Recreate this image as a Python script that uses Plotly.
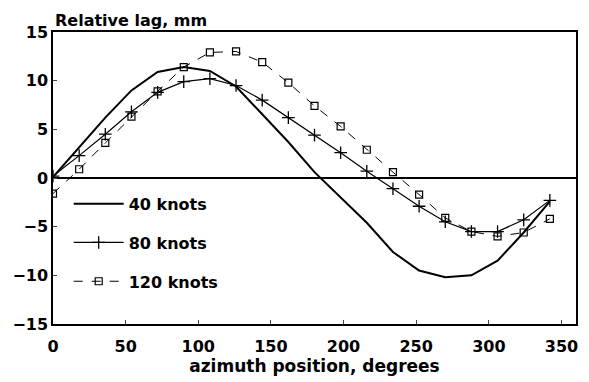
import plotly.graph_objects as go

azimuth = [0, 18, 36, 54, 72, 90, 108, 126, 144, 162, 180, 198, 216, 234, 252, 270, 288, 306, 324, 342]
lag_40 = [0.1, 3.2, 6.2, 9.0, 10.9, 11.4, 11.0, 9.4, 6.5, 3.7, 0.6, -2.0, -4.6, -7.6, -9.5, -10.2, -10.0, -8.5, -5.6, -2.4]
lag_80 = [0.2, 2.3, 4.5, 6.8, 8.8, 9.9, 10.2, 9.5, 8.0, 6.2, 4.4, 2.6, 0.7, -1.1, -2.9, -4.5, -5.5, -5.5, -4.3, -2.3]
lag_120 = [-1.6, 0.9, 3.6, 6.3, 8.9, 11.4, 12.9, 13.0, 11.9, 9.8, 7.4, 5.3, 2.9, 0.6, -1.7, -4.1, -5.5, -6.0, -5.6, -4.2]

x_ticks = [0, 50, 100, 150, 200, 250, 300, 350]
y_ticks = [-15, -10, -5, 0, 5, 10, 15]

font_family = "DejaVu Sans, Liberation Sans, Arial, sans-serif"

fig = go.Figure()
fig.add_trace(go.Scatter(
    x=azimuth, y=lag_40, mode="lines", name="40 knots",
    line=dict(color="black", width=2), legendgroup="a"))
fig.add_trace(go.Scatter(
    x=azimuth, y=lag_80, mode="lines+markers", name="80 knots",
    line=dict(color="black", width=1.2),
    marker=dict(symbol="cross-thin-open", size=9, line=dict(color="black", width=1.3)),
    legendgroup="b"))
fig.add_trace(go.Scatter(
    x=azimuth, y=lag_120, mode="lines+markers", name="120 knots",
    line=dict(color="black", width=1, dash="dash"),
    marker=dict(symbol="square-open", size=7, color="black", line=dict(color="black", width=1.2)),
    legendgroup="c"))

fig.update_layout(
    width=589, height=382,
    margin=dict(l=53, r=11, t=32, b=56),
    paper_bgcolor="white", plot_bgcolor="white",
    font=dict(family=font_family, size=15, color="black", weight="bold"),
    showlegend=True,
    legend=dict(x=0.03, y=0.47, xanchor="left", yanchor="top",
                bgcolor="rgba(0,0,0,0)", tracegroupgap=15, itemwidth=50,
                font=dict(size=16, weight="bold")),
    annotations=[dict(text="Relative lag, mm", xref="paper", yref="paper",
                      x=0.0, y=1.0, xanchor="left", yanchor="bottom", yshift=0,
                      showarrow=False, font=dict(size=16, weight="bold"))],
)
fig.update_xaxes(
    range=[0, 360], tickvals=x_ticks, ticks="inside", ticklen=4,
    showline=True, linecolor="black", linewidth=1.5, mirror=True,
    showgrid=False, zeroline=False, ticklabelstandoff=7,
    title=dict(text="azimuth position, degrees", standoff=3, font=dict(size=17, weight="bold")),
    tickfont=dict(size=16, weight="bold"))
fig.update_yaxes(
    range=[-15, 15], tickvals=y_ticks, ticks="inside", ticklen=4,
    showline=True, linecolor="black", linewidth=1.5, mirror=True,
    showgrid=False, zeroline=True, zerolinecolor="black", zerolinewidth=1.5,
    tickfont=dict(size=16, weight="bold"))

fig.write_html("out.html")
